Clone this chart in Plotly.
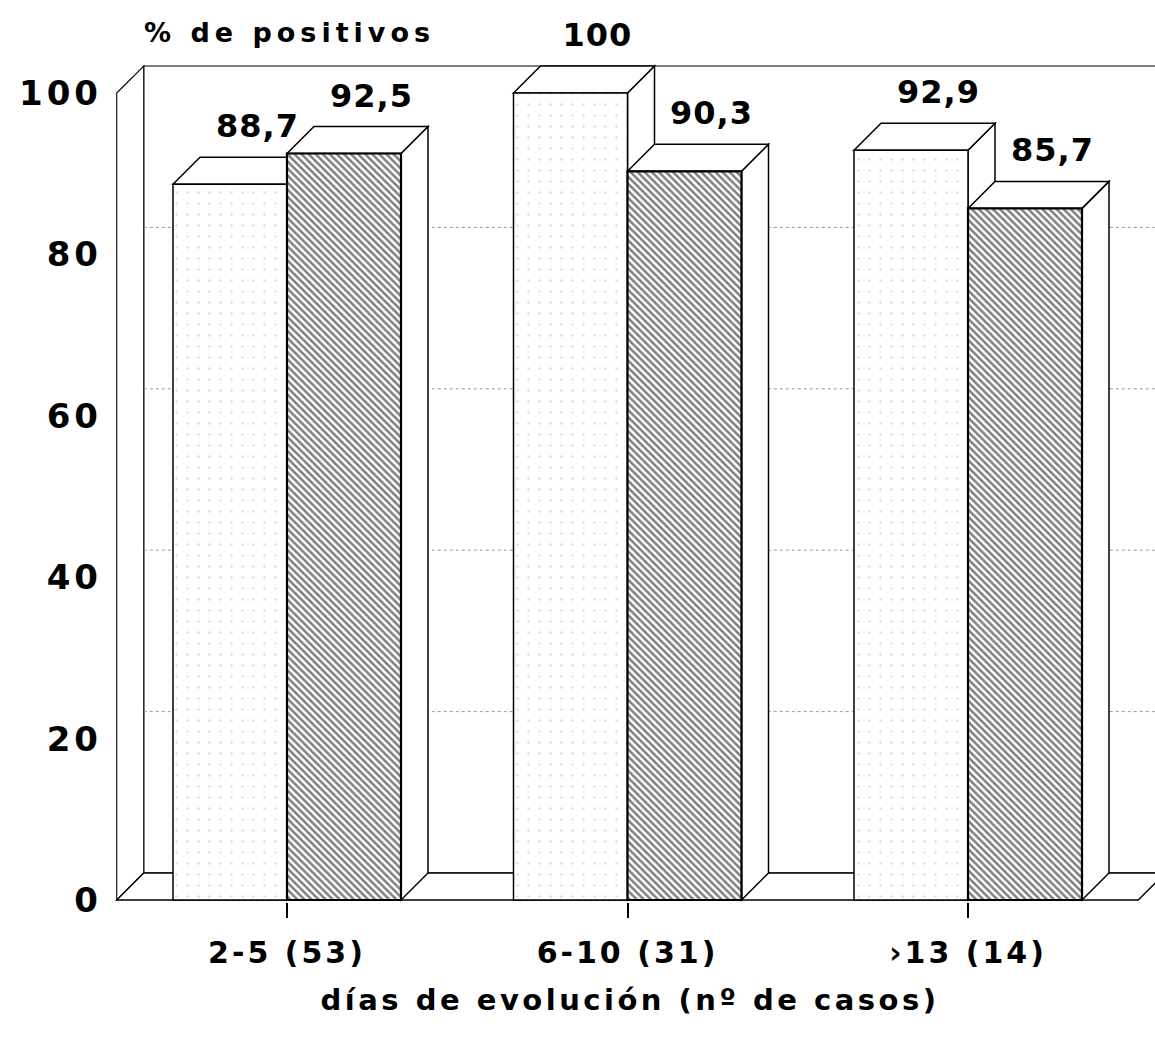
import plotly.graph_objects as go

# ---- data ----
categories = ["2-5 (53)", "6-10 (31)", "›13 (14)"]
serie_a = [88.7, 100.0, 92.9]   # white / stippled bars
serie_b = [92.5, 90.3, 85.7]    # hatched bars
y_ticks = [0, 20, 40, 60, 80, 100]
grid_vals = [20, 40, 60, 80]
y_title = "% de positivos"
x_title = "días de evolución (nº de casos)"

# ---- geometry (pixel based layout) ----
W_PX, H_PX = 1155, 1037
PLOT_L, PLOT_T, PLOT_B = 105, 0, 902
CAT0_PX, CAT_STEP_PX = 287, 340.5
Y0_PX, Y_SCALE = 900, 8.07
DEPTH_PX = 27
BAR_W = 114 / CAT_STEP_PX

x_lo = -(CAT0_PX - PLOT_L) / CAT_STEP_PX
x_hi = x_lo + (W_PX - PLOT_L) / CAT_STEP_PX
y_hi = (Y0_PX - PLOT_T) / Y_SCALE
y_lo = y_hi - (PLOT_B - PLOT_T) / Y_SCALE
DX = DEPTH_PX / CAT_STEP_PX
DY = DEPTH_PX / Y_SCALE
X_LEFT, X_RIGHT = -0.5, 2.5
Y_TOP = max(y_ticks)

FONT = "DejaVu Sans"


def poly(pts, fill="white", lw=1.2, color="black", dash="solid"):
    d = "M " + " L ".join(f"{x},{y}" for x, y in pts) + " Z"
    return dict(type="path", path=d, xref="x", yref="y", layer="below",
                fillcolor=fill, line=dict(color=color, width=lw, dash=dash))


shapes = []
# back wall
shapes.append(poly([(X_LEFT + DX, DY), (X_RIGHT + DX, DY),
                    (X_RIGHT + DX, Y_TOP + DY), (X_LEFT + DX, Y_TOP + DY)], lw=1.1))
# left wall
shapes.append(poly([(X_LEFT, 0), (X_LEFT, Y_TOP), (X_LEFT + DX, Y_TOP + DY),
                    (X_LEFT + DX, DY)], lw=1.1))
# floor
shapes.append(poly([(X_LEFT, 0), (X_RIGHT, 0), (X_RIGHT + DX, DY),
                    (X_LEFT + DX, DY)], lw=1.4))
# gridlines on back wall
for g in grid_vals:
    shapes.append(dict(type="line", xref="x", yref="y", layer="below",
                       x0=X_LEFT + DX, x1=X_RIGHT + DX, y0=g + DY, y1=g + DY,
                       line=dict(color="#999999", width=1, dash="dot")))

# 3D faces of the bars + value labels
annotations = []
for i in range(len(categories)):
    for s, vals in enumerate([serie_a, serie_b]):
        v = vals[i]
        xl = i - BAR_W + s * BAR_W
        xr = xl + BAR_W
        shapes.append(poly([(xr, 0), (xr, v), (xr + DX, v + DY), (xr + DX, DY)], lw=1.5))
        shapes.append(poly([(xl, v), (xr, v), (xr + DX, v + DY), (xl + DX, v + DY)], lw=1.5))
        txt = str(int(v)) if float(v).is_integer() else f"{v:.1f}".replace(".", ",")
        annotations.append(dict(x=(xl + xr) / 2 + DX, y=v + DY, xref="x", yref="y",
                                text=txt, showarrow=False, yshift=31,
                                xanchor="center", yanchor="middle",
                                font=dict(family=FONT, size=32, color="black",
                                          weight="bold")))

# axis title at top-left (centre of the text block)
annotations.append(dict(x=(289 - PLOT_L) / (W_PX - PLOT_L),
                        y=(PLOT_B - 32) / (PLOT_B - PLOT_T),
                        xref="paper", yref="paper", text=y_title, showarrow=False,
                        xanchor="center", yanchor="middle",
                        font=dict(family=FONT, size=27, color="black", weight="bold")))

fig = go.Figure()
fig.add_trace(go.Bar(
    x=list(range(len(categories))), y=serie_a, width=BAR_W, offset=-BAR_W,
    marker=dict(color="white", line=dict(color="black", width=1.5),
                pattern=dict(shape=".", fgcolor="#b8b8b8", bgcolor="white",
                             size=11, solidity=0.04)),
    showlegend=False, hoverinfo="skip"))
fig.add_trace(go.Bar(
    x=list(range(len(categories))), y=serie_b, width=BAR_W, offset=0,
    marker=dict(color="white", line=dict(color="black", width=2.2),
                pattern=dict(shape="\\", fgcolor="black", bgcolor="white",
                             size=5, solidity=0.5)),
    showlegend=False, hoverinfo="skip"))

fig.update_layout(
    width=W_PX, height=H_PX,
    margin=dict(l=PLOT_L, r=0, t=PLOT_T, b=H_PX - PLOT_B),
    paper_bgcolor="white", plot_bgcolor="white",
    shapes=shapes, annotations=annotations,
    barmode="overlay",
    font=dict(family=FONT, color="black"),
    xaxis=dict(range=[x_lo, x_hi], tickvals=list(range(len(categories))),
               ticktext=categories, ticks="outside", ticklen=15, tickwidth=1.5,
               tickcolor="black", showgrid=False, zeroline=False, showline=False,
               tickfont=dict(family=FONT, size=30, weight="bold"), ticklabelstandoff=9,
               title=dict(text=x_title, font=dict(family=FONT, size=29, weight="bold"),
                          standoff=20)),
    yaxis=dict(range=[y_lo, y_hi], tickvals=y_ticks, ticks="", showgrid=False,
               zeroline=False, showline=False,
               tickfont=dict(family=FONT, size=34, weight="bold"), ticklabelstandoff=2),
)

spacing_js = """
var gd = document.getElementById('{plot_id}');
function ls(sel, v) { gd.querySelectorAll(sel).forEach(function (t) { t.style.letterSpacing = v; }); }
ls('.xtick text', '3px');
ls('.ytick text', '4px');
ls('.g-xtitle text', '3.5px');
gd.querySelectorAll('.annotation-text').forEach(function (t) {
  t.style.letterSpacing = (t.textContent.length > 6 ? '5px' : '1px');
});
"""

fig.write_html("out.html", post_script=spacing_js)
